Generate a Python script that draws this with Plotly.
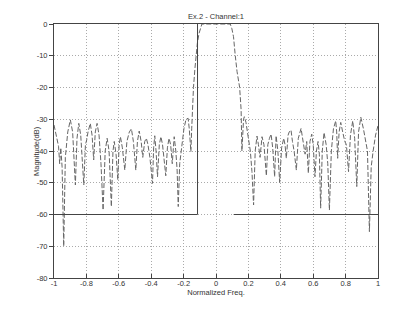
import plotly.graph_objects as go

# Response curve (normalized frequency, magnitude in dB)
freq = [
    -1.000, -0.985, -0.972, -0.965, -0.958, -0.950, -0.940, -0.930, -0.915, -0.899,
    -0.885, -0.868, -0.858, -0.847, -0.835, -0.816, -0.806, -0.798, -0.790, -0.776,
    -0.765, -0.755, -0.745, -0.734, -0.722, -0.710, -0.697, -0.684, -0.672, -0.660,
    -0.646, -0.636, -0.628, -0.617, -0.606, -0.598, -0.590, -0.578, -0.563, -0.550,
    -0.535, -0.522, -0.510, -0.495, -0.485, -0.474, -0.462, -0.452, -0.440, -0.430,
    -0.420, -0.408, -0.392, -0.385, -0.378, -0.370, -0.361, -0.350, -0.340, -0.330,
    -0.320, -0.310, -0.300, -0.290, -0.280, -0.270, -0.258, -0.248, -0.240, -0.233,
    -0.224, -0.212, -0.198, -0.185, -0.172, -0.165, -0.155, -0.150, -0.145, -0.139,
    -0.130, -0.124, -0.115, -0.105, -0.095, -0.087, 0.000, 0.088, 0.098, 0.108,
    0.119, 0.130, 0.146, 0.155, 0.160, 0.165, 0.170, 0.175, 0.185, 0.200,
    0.212, 0.222, 0.232, 0.242, 0.253, 0.262, 0.272, 0.284, 0.296, 0.311,
    0.320, 0.330, 0.340, 0.350, 0.362, 0.371, 0.382, 0.393, 0.405, 0.418,
    0.426, 0.434, 0.445, 0.452, 0.463, 0.472, 0.482, 0.496, 0.508, 0.525,
    0.538, 0.550, 0.560, 0.570, 0.580, 0.591, 0.600, 0.611, 0.620, 0.630,
    0.638, 0.646, 0.656, 0.667, 0.680, 0.690, 0.700, 0.712, 0.725, 0.739,
    0.745, 0.751, 0.760, 0.770, 0.782, 0.795, 0.805, 0.818, 0.830, 0.844,
    0.856, 0.869, 0.880, 0.894, 0.910, 0.925, 0.935, 0.947, 0.958, 0.970,
    0.985, 1.000,
]
mag_db = [
    -31.8, -35.0, -38.5, -44.0, -39.0, -45.0, -70.0, -42.0, -34.0, -30.2,
    -34.0, -50.7, -36.0, -31.3, -35.0, -50.7, -38.0, -36.5, -34.0, -31.3,
    -35.0, -42.8, -34.0, -31.3, -35.0, -44.0, -58.6, -40.0, -36.0, -40.0,
    -57.5, -40.0, -37.0, -41.0, -49.1, -38.0, -35.5, -39.0, -46.0, -37.0,
    -34.0, -33.0, -37.0, -46.0, -37.0, -33.7, -37.0, -42.0, -37.0, -36.0,
    -38.0, -42.0, -50.2, -39.0, -35.2, -40.0, -48.1, -38.0, -35.5, -38.0,
    -43.0, -47.8, -39.0, -36.0, -38.0, -44.0, -35.5, -40.0, -46.0, -57.5,
    -44.0, -38.0, -33.0, -30.0, -29.7, -33.0, -40.2, -33.0, -25.0, -20.0,
    -14.0, -10.0, -6.0, -3.0, -1.0, 0.0, 0.0, 0.0, -1.5, -4.0,
    -10.0, -15.0, -20.0, -27.0, -40.0, -33.0, -30.0, -29.2, -31.0, -36.0,
    -40.0, -46.5, -57.0, -40.0, -35.3, -38.0, -42.0, -35.5, -38.0, -47.8,
    -38.0, -36.0, -34.7, -39.0, -48.1, -35.2, -40.0, -49.9, -39.0, -36.0,
    -38.0, -42.3, -35.0, -34.0, -33.4, -37.0, -40.0, -46.0, -36.0, -32.9,
    -37.0, -41.0, -37.0, -47.0, -37.0, -34.7, -38.0, -48.1, -40.0, -37.0,
    -41.0, -58.0, -40.0, -34.2, -38.0, -44.0, -58.6, -40.0, -33.0, -30.5,
    -34.0, -42.3, -34.0, -31.0, -34.0, -37.0, -38.0, -46.5, -35.0, -30.5,
    -36.0, -51.2, -34.0, -29.4, -33.0, -37.0, -40.0, -65.4, -45.0, -40.0,
    -35.0, -32.0,
]

# Specification mask
mask_left_x = [-1.0, -0.114, -0.114]
mask_left_y = [-60, -60, 0]
mask_right_x = [0.109, 1.0]
mask_right_y = [-60, -60]

x_ticks = [-1, -0.8, -0.6, -0.4, -0.2, 0, 0.2, 0.4, 0.6, 0.8, 1]
x_tick_text = ["-1", "-0.8", "-0.6", "-0.4", "-0.2", "0", "0.2", "0.4", "0.6", "0.8", "1"]
y_ticks = [0, -10, -20, -30, -40, -50, -60, -70, -80]
y_tick_text = ["0", "-10", "-20", "-30", "-40", "-50", "-60", "-70", "-80"]

fig = go.Figure()
fig.add_trace(go.Scatter(x=freq, y=mag_db, mode="lines",
                         line=dict(color="#666666", width=1, dash="5px,2px"),
                         showlegend=False, hoverinfo="skip"))
fig.add_trace(go.Scatter(x=mask_left_x, y=mask_left_y, mode="lines",
                         line=dict(color="#444444", width=1),
                         showlegend=False, hoverinfo="skip"))
fig.add_trace(go.Scatter(x=mask_right_x, y=mask_right_y, mode="lines",
                         line=dict(color="#444444", width=1),
                         showlegend=False, hoverinfo="skip"))

axis_common = dict(showline=True, linecolor="#444444", linewidth=1, mirror=True,
                   showgrid=True, gridcolor="#aaaaaa", gridwidth=1, griddash="1px,2px",
                   zeroline=False, tickfont=dict(size=7.5, color="#333333"),
                   ticklen=4, tickcolor="#444444", automargin=False)

fig.update_xaxes(range=[-1, 1], tickvals=x_ticks, ticktext=x_tick_text, ticks="inside",
                 ticklabelstandoff=-2,
                 title=dict(text="Normalized Freq.", font=dict(size=7.5, color="#333333"),
                            standoff=1),
                 **axis_common)
fig.update_yaxes(range=[-80, 0], tickvals=y_ticks, ticktext=y_tick_text, ticks="outside",
                 **axis_common)

# page body adds an 8px offset, so the figure's own margins are reduced by it
fig.update_layout(
    width=417, height=313,
    margin=dict(l=46, r=47, t=16, b=43, autoexpand=False),
    paper_bgcolor="white", plot_bgcolor="white",
    font=dict(family="Liberation Sans, Arial, sans-serif", size=7.5, color="#333333"),
    title=dict(text="Ex.2 - Channel:1", x=(46 + 370) / 2 / 417, xanchor="center",
               y=1 - 8 / 313, yanchor="middle", font=dict(size=7.5, color="#333333")),
)
fig.add_annotation(text="Magnitude(dB)", textangle=-90, showarrow=False,
                   xref="paper", yref="paper", x=(28 - 46) / 324, y=0.5,
                   xanchor="center", yanchor="middle",
                   font=dict(size=7.5, color="#333333"))

fig.write_html("out.html")
